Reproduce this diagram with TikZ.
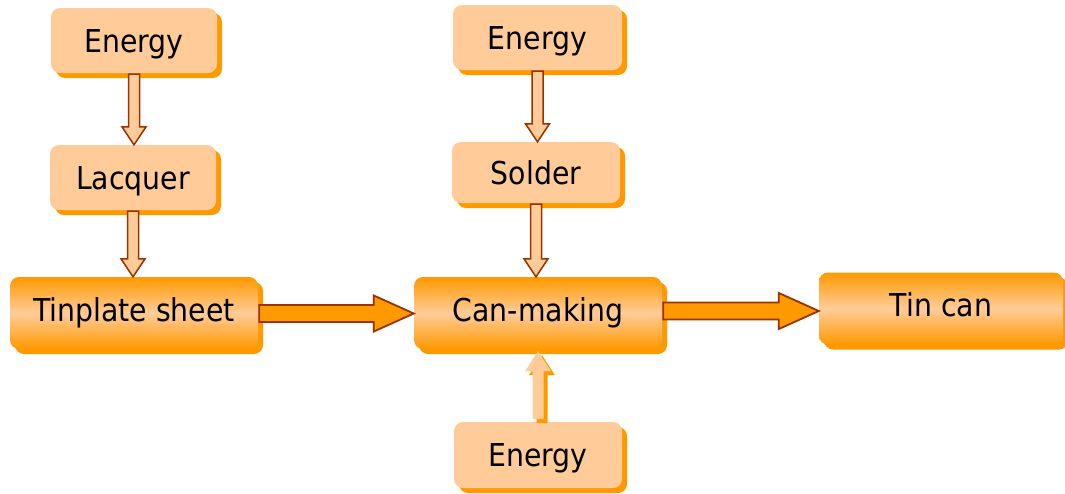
\documentclass[tikz,border=0pt]{standalone}
\usepackage{fontspec}
\setmainfont{DejaVu Sans Condensed}
\usetikzlibrary{calc,shadows}
\definecolor{peach}{HTML}{FFCC99}
\definecolor{amber}{HTML}{FF9900}
\definecolor{rust}{HTML}{993300}

\tikzset{
  box/.style={rounded corners=9pt, draw=none, inner sep=0pt,
    font=\fontsize{31.5}{36}\selectfont, text height=23pt, text depth=0pt,
    general shadow={fill=amber, shadow xshift=5pt, shadow yshift=-5pt}},
  plainbox/.style={box, fill=peach},
  mainbox/.style={box, text depth=7pt,
    top color=amber, bottom color=amber, middle color=peach},
  thinflow/.style={fill=peach, draw=rust, line width=1.5pt, line join=miter},
  fatflow/.style={fill=amber, draw=rust, line width=1.8pt, line join=miter},
  liftflow/.style={fill=peach, draw=none,
    general shadow={fill=amber, shadow xshift=4pt, shadow yshift=-4pt}},
}

% thin block arrow pointing down from node #1 to node #2
\newcommand\vflow[2]{%
  \draw[thinflow] let \p1=(#1.south), \p2=(#2.north) in
    (\x1-5.5pt,\y1-1pt) -- (\x1+5.5pt,\y1-1pt) -- (\x1+5.5pt,\y2+18pt) --
    (\x1+12pt,\y2+18pt) -- (\x1,\y2) -- (\x1-12pt,\y2+18pt) --
    (\x1-5.5pt,\y2+18pt) -- cycle;}

% wide block arrow pointing right from node #1 to node #2
\newcommand\hflow[3]{%
  \draw[fatflow] let \p1=(#1.east), \p2=(#2.west) in
    (\x1+1pt,#3+8.5pt) -- (\x2-40pt,#3+8.5pt) -- (\x2-40pt,#3+18pt) --
    (\x2,#3) -- (\x2-40pt,#3-18pt) -- (\x2-40pt,#3-8.5pt) --
    (\x1+1pt,#3-8.5pt) -- cycle;}

% borderless block arrow pointing up from node #1 to node #2
\newcommand\uflow[2]{%
  \path[liftflow] let \p1=(#1.north), \p2=(#2.south) in
    (\x1-5.5pt,\y1+3pt) -- (\x1+5.5pt,\y1+3pt) -- (\x1+5.5pt,\y2-22pt) --
    (\x1+13pt,\y2-22pt) -- (\x1,\y2-2pt) -- (\x1-13pt,\y2-22pt) --
    (\x1-5.5pt,\y2-22pt) -- cycle;}

\begin{document}
\begin{tikzpicture}[x=1pt,y=-1pt]
  \useasboundingbox (0,0) rectangle (1065,493);

  % left column
  \node[plainbox, minimum width=166pt, minimum height=65pt] (energyA) at (134,40.5) {Energy};
  \node[plainbox, minimum width=166pt, minimum height=65pt] (lacquer) at (133,177.5) {Lacquer};
  \node[mainbox, minimum width=248pt, minimum height=72pt] (sheet) at (134,313) {Tinplate sheet};

  % middle column
  \node[plainbox, minimum width=169pt, minimum height=65pt] (energyB) at (537.5,37.5) {Energy};
  \node[plainbox, minimum width=168pt, minimum height=61pt] (solder) at (536,172.5) {Solder};
  \node[mainbox, minimum width=248pt, minimum height=72pt] (making) at (538,313) {Can-making};
  \node[plainbox, minimum width=168pt, minimum height=66pt] (energyC) at (538,455) {Energy};

  % product
  \node[mainbox, minimum width=244pt, minimum height=72pt] (tincan) at (941,308.5) {Tin can};

  % flows
  \vflow{energyA}{lacquer}
  \vflow{lacquer}{sheet}
  \vflow{energyB}{solder}
  \vflow{solder}{making}
  \uflow{energyC}{making}
  \hflow{sheet}{making}{-313.5pt}
  \hflow{making}{tincan}{-311pt}
\end{tikzpicture}
\end{document}
